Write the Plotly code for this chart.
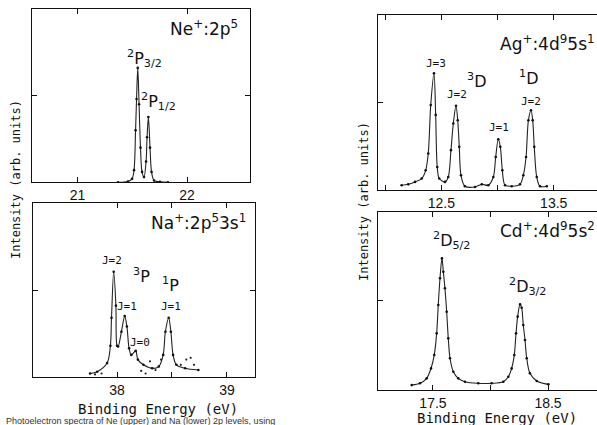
import plotly.graph_objects as go

# ---------------- data (binding energy eV, relative intensity) ----------------
ne_energy = [21.37, 21.46, 21.498, 21.516, 21.53, 21.539, 21.55, 21.562, 21.575, 21.589,
             21.607, 21.626, 21.635, 21.647, 21.662, 21.676, 21.699, 21.753, 21.826]
ne_intensity = [0.0, 0.005, 0.02, 0.07, 0.30, 0.48, 0.66, 0.45, 0.20, 0.06,
                0.03, 0.12, 0.26, 0.377, 0.20, 0.06, 0.01, 0.003, 0.0]

na_energy = [37.755, 37.82, 37.91, 37.94, 37.95, 37.97, 37.99, 38.00, 38.01, 38.04,
             38.07, 38.09, 38.11, 38.13, 38.17, 38.19, 38.24, 38.32, 38.38, 38.42,
             38.44, 38.47, 38.49, 38.51, 38.54, 38.62, 38.74]
na_intensity = [0.02, 0.03, 0.08, 0.18, 0.34, 0.605, 0.41, 0.18, 0.175, 0.26,
                0.35, 0.29, 0.165, 0.127, 0.15, 0.10, 0.07, 0.05, 0.06, 0.127,
                0.26, 0.34, 0.26, 0.127, 0.07, 0.05, 0.04]
na_dots_energy = [37.80, 37.86, 38.22, 38.26, 38.30, 38.35, 38.40, 38.58, 38.63, 38.67, 38.70]
na_dots_intensity = [0.015, 0.02, 0.035, 0.02, 0.09, 0.04, 0.10, 0.07, 0.10, 0.11, 0.07]

ag_energy = [12.147, 12.206, 12.266, 12.326, 12.361, 12.384, 12.406, 12.435, 12.45, 12.464,
             12.482, 12.533, 12.562, 12.586, 12.607, 12.631, 12.646, 12.66, 12.675, 12.71,
             12.80, 12.86, 12.918, 12.963, 12.984, 13.007, 13.025, 13.043, 13.067, 13.126,
             13.20, 13.23, 13.254, 13.275, 13.298, 13.313, 13.327, 13.349, 13.378, 13.438]
ag_intensity = [0.029, 0.034, 0.048, 0.067, 0.114, 0.21, 0.486, 0.667, 0.43, 0.133,
                0.067, 0.048, 0.076, 0.229, 0.381, 0.482, 0.40, 0.248, 0.086, 0.023,
                0.019, 0.034, 0.029, 0.076, 0.19, 0.291, 0.248, 0.114, 0.029, 0.023,
                0.034, 0.086, 0.19, 0.40, 0.457, 0.40, 0.248, 0.076, 0.023, 0.023]

cd_energy = [17.315, 17.387, 17.445, 17.483, 17.511, 17.532, 17.546, 17.561, 17.578, 17.59,
             17.604, 17.619, 17.633, 17.648, 17.677, 17.72, 17.778, 17.894, 18.01, 18.111,
             18.155, 18.184, 18.207, 18.222, 18.236, 18.257, 18.271, 18.285, 18.30, 18.315,
             18.343, 18.402, 18.503]
cd_intensity = [0.026, 0.036, 0.064, 0.12, 0.195, 0.317, 0.477, 0.627, 0.739, 0.664,
                0.571, 0.439, 0.289, 0.177, 0.101, 0.064, 0.045, 0.036, 0.036, 0.045,
                0.073, 0.12, 0.195, 0.317, 0.411, 0.48, 0.461, 0.364, 0.28, 0.177,
                0.092, 0.049, 0.03]

# axis ticks
ne_ticks, ne_ticktext = [21, 22], ["21", "22"]
na_ticks, na_ticktext = [38, 38.5, 39], ["38", "", "39"]
ag_ticks, ag_ticktext = [12.0, 12.5, 13.0, 13.5], ["", "12.5", "", "13.5"]
cd_ticks, cd_ticktext = [17.5, 18.0, 18.5], ["17.5", "", "18.5"]

# ---------------- figure ----------------
LINE = dict(color="#222222", width=1.1, shape="spline", smoothing=0.9)
MARK = dict(color="#111111", size=2.6)

fig = go.Figure()
panels = [
    (ne_energy, ne_intensity, "x", "y"),
    (na_energy, na_intensity, "x2", "y2"),
    (ag_energy, ag_intensity, "x3", "y3"),
    (cd_energy, cd_intensity, "x4", "y4"),
]
for xs, ys, xa, ya in panels:
    fig.add_trace(go.Scatter(x=xs, y=ys, mode="lines+markers", line=LINE, marker=MARK,
                             xaxis=xa, yaxis=ya, showlegend=False, hoverinfo="skip"))
fig.add_trace(go.Scatter(x=na_dots_energy, y=na_dots_intensity, mode="markers",
                         marker=dict(color="#222", size=2.2),
                         xaxis="x2", yaxis="y2", showlegend=False, hoverinfo="skip"))

TICKFONT_L = dict(family="Liberation Sans, Arial, sans-serif", size=14, color="#111")
TICKFONT_R = dict(family="Liberation Sans, Arial, sans-serif", size=14, color="#111")


def xax(domain, rng, vals, text, anchor, font):
    return dict(domain=domain, range=rng, anchor=anchor, showgrid=False, zeroline=False,
                showline=True, linecolor="#111", linewidth=1.3, mirror="ticks",
                ticks="inside", ticklen=5, tickwidth=1.2, tickcolor="#111",
                tickvals=vals, ticktext=text, tickfont=font, fixedrange=True)


def yax(domain, anchor, mirror):
    return dict(domain=domain, range=[0, 1], anchor=anchor, showgrid=False, zeroline=False,
                showline=True, linecolor="#111", linewidth=1.3, mirror=mirror,
                ticks="inside", ticklen=5, tickwidth=1.2, tickcolor="#111",
                tickvals=[0.5], showticklabels=False, fixedrange=True)


W, H = 597, 425
fig.update_layout(
    width=W, height=H,
    margin=dict(l=0, r=0, t=0, b=0),
    paper_bgcolor="white", plot_bgcolor="white",
    xaxis=xax([32.3 / W, 250 / W], [20.587, 22.575], ne_ticks, ne_ticktext, "y", TICKFONT_L),
    yaxis=yax([1 - 182.3 / H, 1 - 9 / H], "x", "ticks"),
    xaxis2=xax([33 / W, 255 / W], [37.236, 39.255], na_ticks, na_ticktext, "y2", TICKFONT_L),
    yaxis2=yax([1 - 377 / H, 1 - 203 / H], "x2", "ticks"),
    xaxis3=xax([378 / W, 1.0], [11.937, 13.885], ag_ticks, ag_ticktext, "y3", TICKFONT_R),
    yaxis3=yax([1 - 190.3 / H, 1 - 15 / H], "x3", False),
    xaxis4=xax([378 / W, 1.0], [17.022, 18.926], cd_ticks, cd_ticktext, "y4", TICKFONT_R),
    yaxis4=yax([1 - 389.7 / H, 1 - 212 / H], "x4", False),
)

SANS = "DejaVu Sans, sans-serif"
MONO = "DejaVu Sans Mono, monospace"
ann = []


def label(text, x, y, xr, yr, size=16, family=SANS, xanchor="center"):
    ann.append(dict(text=text, x=x, y=y, xref=xr, yref=yr, showarrow=False,
                    xanchor=xanchor, yanchor="middle",
                    font=dict(family=family, size=size, color="#111")))


# panel titles
label("Ne<sup>+</sup>:2p<sup>5</sup>", 22.484, 0.89, "x", "y", 17, xanchor="right")
label("Na<sup>+</sup>:2p<sup>5</sup>3s<sup>1</sup>", 39.187, 0.891, "x2", "y2", 17, xanchor="right")
label("Ag<sup>+</sup>:4d<sup>9</sup>5s<sup>1</sup>", 13.885, 0.84, "x3", "y3", 17, xanchor="right")
label("Cd<sup>+</sup>:4d<sup>9</sup>5s<sup>2</sup>", 18.926, 0.899, "x4", "y4", 17, xanchor="right")

# Ne peaks
label("<sup>2</sup>P<sub>3/2</sub>", 21.607, 0.717, "x", "y", 16)
label("<sup>2</sup>P<sub>1/2</sub>", 21.735, 0.469, "x", "y", 16)
# Na peaks
label("J=2", 37.958, 0.672, "x2", "y2", 11, MONO)
label("<sup>3</sup>P", 38.22, 0.586, "x2", "y2", 16)
label("J=1", 38.093, 0.408, "x2", "y2", 11, MONO)
label("J=0", 38.21, 0.201, "x2", "y2", 11, MONO)
label("<sup>1</sup>P", 38.49, 0.529, "x2", "y2", 16)
label("J=1", 38.49, 0.408, "x2", "y2", 11, MONO)
# Ag peaks
label("J=3", 12.453, 0.726, "x3", "y3", 11, MONO)
label("<sup>3</sup>D", 12.809, 0.629, "x3", "y3", 16)
label("J=2", 12.64, 0.544, "x3", "y3", 11, MONO)
label("J=1", 13.013, 0.361, "x3", "y3", 11, MONO)
label("<sup>1</sup>D", 13.28, 0.641, "x3", "y3", 16)
label("J=2", 13.298, 0.504, "x3", "y3", 11, MONO)
# Cd peaks
label("<sup>2</sup>D<sub>5/2</sub>", 17.657, 0.842, "x4", "y4", 16)
label("<sup>2</sup>D<sub>3/2</sub>", 18.326, 0.578, "x4", "y4", 16)

# axis titles
label("Binding Energy (eV)", 158 / W, 1 - 409 / H, "paper", "paper", 14, MONO)
label("Binding Energy (eV)", 497 / W, 1 - 418 / H, "paper", "paper", 14, MONO)
for xc, yc in [(16, 180), (364, 202)]:
    ann.append(dict(text="Intensity (arb. units)", x=xc / W, y=1 - yc / H, xref="paper",
                    yref="paper", showarrow=False, textangle=-90, xanchor="center",
                    yanchor="middle", font=dict(family=MONO, size=12, color="#111")))

# caption fragment at bottom
ann.append(dict(text="Photoelectron spectra of Ne (upper) and Na (lower) 2p levels, using",
                x=4 / W, y=1 - 421 / H, xref="paper", yref="paper", showarrow=False,
                xanchor="left", yanchor="middle",
                font=dict(family="Liberation Sans, Arial, sans-serif", size=9, color="#333")))

fig.update_layout(annotations=ann)
fig.write_html("out.html")
